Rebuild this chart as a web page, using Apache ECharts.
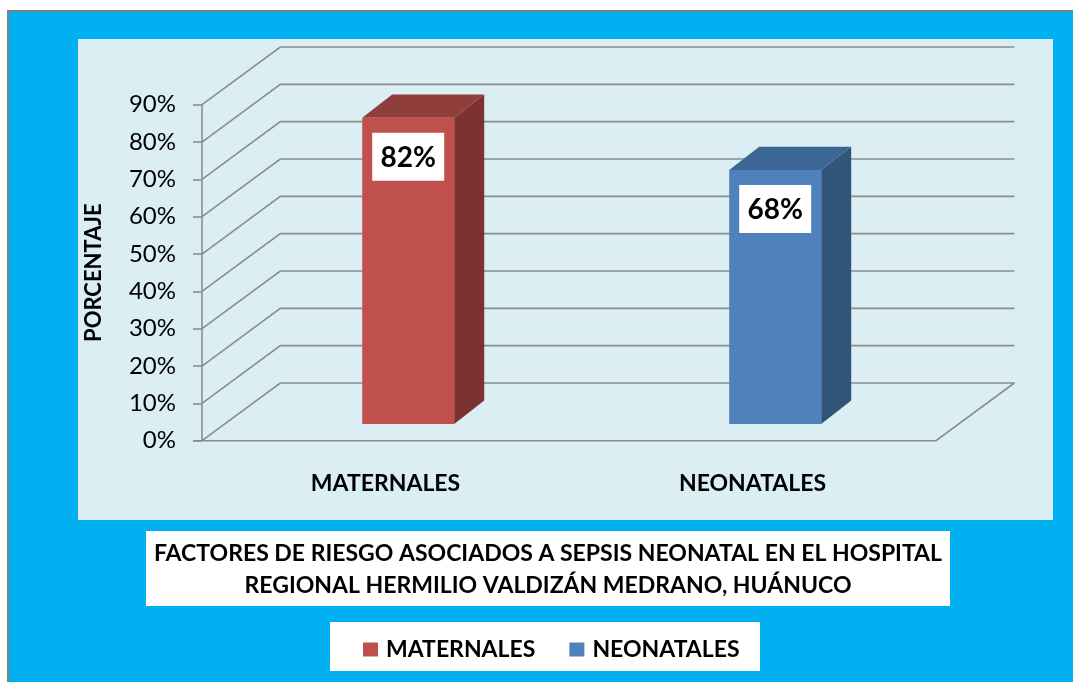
<!DOCTYPE html>
<html>
<head>
<meta charset="utf-8">
<script src="https://cdn.jsdelivr.net/npm/echarts@6/dist/echarts.min.js"></script>
<style>html,body{margin:0;padding:0;background:#fff}#c{width:1073px;height:682px}</style>
</head>
<body>
<div id="c"></div>
<script>
const categories = ['MATERNALES', 'NEONATALES'];
const values = [82, 68];
const seriesNames = ['MATERNALES', 'NEONATALES'];
const yTicks = [0, 10, 20, 30, 40, 50, 60, 70, 80, 90];
const titleLines = ['FACTORES DE RIESGO ASOCIADOS A SEPSIS NEONATAL EN EL HOSPITAL', 'REGIONAL HERMILIO VALDIZÁN MEDRANO, HUÁNUCO'];
const axisName = 'PORCENTAJE';

const FONT = 'Lato';
const colors = [
  {front: '#C0504D', side: '#7B3230', top: '#903E3B'},
  {front: '#4F81BD', side: '#335479', top: '#3B6696'}
];
const WALL_DX = 78.3, WALL_DY = -57.7;
const DEPTH_FRAC = 0.29;
const BAR_DX = 30, BAR_DY = -23.4;

const chart = echarts.init(document.getElementById('c'));

function wallItem(params, api) {
  const cs = params.coordSys;
  const v = api.value(0);
  const y = api.coord([0, v])[1];
  const x0 = cs.x, x1 = cs.x + cs.width;
  const style = {stroke: '#8C8C8C', lineWidth: 1.6, fill: null};
  const children = [{
    type: 'polyline',
    shape: {points: [[x0, y], [x0 + WALL_DX, y + WALL_DY], [x1 + WALL_DX, y + WALL_DY]]},
    style: style
  }];
  if (v === 0) {
    children.push({
      type: 'polyline',
      shape: {points: [[x0 - 9, y], [x1, y], [x1 + WALL_DX, y + WALL_DY]]},
      style: style
    });
  }
  return {type: 'group', children: children};
}

function barItem(idx) {
  return function (params, api) {
    const c = colors[idx];
    const cat = api.value(0), val = api.value(1);
    const base = api.coord([cat, 0]);
    const top = api.coord([cat, val]);
    const band = api.size([1, 0])[0];
    const bw = band * 0.2507;
    const fx = WALL_DX * DEPTH_FRAC, fy = WALL_DY * DEPTH_FRAC;
    const l = base[0] - bw / 2 + fx, r = l + bw;
    const b = base[1] + fy, t = top[1] + fy;
    const cx = (l + r) / 2, ly = t + 39;
    return {
      type: 'group',
      children: [
        {type: 'polygon', shape: {points: [[r, t], [r + BAR_DX, t + BAR_DY], [r + BAR_DX, b + BAR_DY], [r, b]]}, style: {fill: c.side}},
        {type: 'polygon', shape: {points: [[l, t], [l + BAR_DX, t + BAR_DY], [r + BAR_DX, t + BAR_DY], [r, t]]}, style: {fill: c.top}},
        {type: 'rect', shape: {x: l, y: t, width: bw, height: b - t}, style: {fill: c.front}},
        {type: 'rect', shape: {x: cx - 36, y: ly - 24, width: 72, height: 48}, style: {fill: '#fff'}},
        {type: 'text', x: cx, y: ly + 1, style: {text: val + '%', fontFamily: FONT, fontWeight: 'bold', fontSize: 28, fill: '#000', align: 'center', verticalAlign: 'middle'}}
      ]
    };
  };
}

const option = {
  backgroundColor: '#ffffff',
  animation: false,
  graphic: [
    {type: 'rect', z: -20, shape: {x: 7, y: 10, width: 1100, height: 700}, style: {fill: '#808080'}},
    {type: 'rect', z: -19, shape: {x: 9, y: 12, width: 1100, height: 700}, style: {fill: '#00B0F0'}},
    {type: 'rect', z: -18, shape: {x: 78, y: 39, width: 975, height: 481}, style: {fill: '#DBEEF4'}},
    {type: 'rect', z: -18, shape: {x: 146, y: 531, width: 804, height: 75}, style: {fill: '#ffffff'}},
    {type: 'rect', z: -18, shape: {x: 330, y: 622, width: 430, height: 49}, style: {fill: '#ffffff'}},
    {type: 'text', z: 5, x: 548, y: 554, style: {text: titleLines[0], fontFamily: FONT, fontWeight: 'bold', fontSize: 23, fill: '#000', align: 'center', verticalAlign: 'middle'}},
    {type: 'text', z: 5, x: 548, y: 586, style: {text: titleLines[1], fontFamily: FONT, fontWeight: 'bold', fontSize: 23, fill: '#000', align: 'center', verticalAlign: 'middle'}}
  ],
  legend: {
    data: seriesNames.map((n, i) => ({name: n, icon: 'rect', itemStyle: {color: colors[i].front}})),
    left: 358, top: 633,
    itemWidth: 15, itemHeight: 14, itemGap: 34,
    textStyle: {fontFamily: FONT, fontWeight: 'bold', fontSize: 23, color: '#000', padding: [0, 0, 0, 3]}
  },
  grid: {left: 202, right: 137, top: 104.7, bottom: 241.3, containLabel: false},
  xAxis: {
    type: 'category', data: categories, z: 10,
    axisLine: {show: false}, axisTick: {show: false}, splitLine: {show: false},
    axisLabel: {margin: 31, fontFamily: FONT, fontWeight: 'bold', fontSize: 23, color: '#000'}
  },
  yAxis: {
    type: 'value', min: 0, max: 90, interval: 10, z: 10,
    name: axisName, nameLocation: 'middle', nameRotate: 90, nameGap: 97,
    nameTextStyle: {fontFamily: FONT, fontWeight: 'bold', fontSize: 22, color: '#000'},
    axisLine: {show: true, lineStyle: {color: '#8C8C8C', width: 1.6}},
    axisTick: {show: true, length: 9, lineStyle: {color: '#8C8C8C', width: 1.6}},
    splitLine: {show: false},
    axisLabel: {margin: 26, fontFamily: FONT, fontSize: 24, color: '#000', formatter: '{value}%'}
  },
  series: [
    {type: 'custom', name: '_walls', silent: true, z: 1, data: yTicks.map(v => [v]), renderItem: wallItem, encode: {y: 0}},
    {type: 'custom', name: seriesNames[0], z: 3, itemStyle: {color: colors[0].front}, data: [[0, values[0]]], renderItem: barItem(0), encode: {x: 0, y: 1}},
    {type: 'custom', name: seriesNames[1], z: 3, itemStyle: {color: colors[1].front}, data: [[1, values[1]]], renderItem: barItem(1), encode: {x: 0, y: 1}}
  ]
};
chart.setOption(option);
</script>
</body>
</html>
